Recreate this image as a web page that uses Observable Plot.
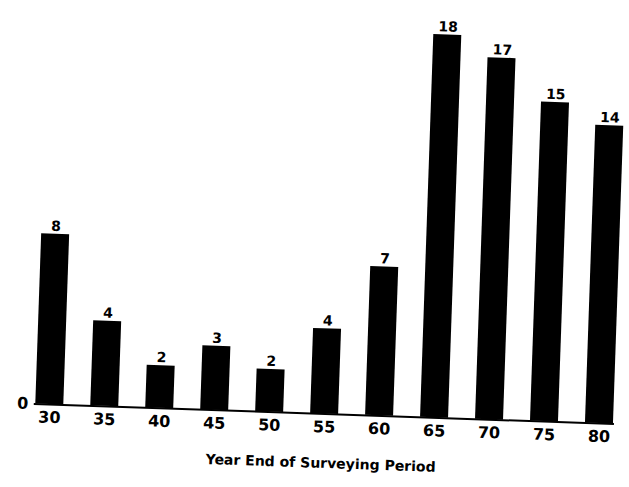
<!DOCTYPE html>
<html>
<head>
<meta charset="utf-8">
<script src="https://cdn.jsdelivr.net/npm/d3@7"></script>
<script src="https://cdn.jsdelivr.net/npm/@observablehq/plot@0.6"></script>
<style>
  html, body { margin: 0; padding: 0; background: #fff; }
  #chart { width: 629px; height: 487px; overflow: hidden; }
  #chart svg { transform: rotate(1.98deg); transform-origin: 314px 243px; display: block; }
</style>
</head>
<body>
<div id="chart"></div>
<script>
const years = ["30", "35", "40", "45", "50", "55", "60", "65", "70", "75", "80"];
const counts = [8, 4, 2, 3, 2, 4, 7, 18, 17, 15, 14];
const xTitle = "Year End of Surveying Period";

const data = years.map((y, i) => ({year: y, count: counts[i]}));
const font = "'DejaVu Sans', Verdana, sans-serif";

const chart = Plot.plot({
  width: 629,
  height: 487,
  marginLeft: 39.5,
  marginRight: 9,
  marginTop: 30,
  marginBottom: 74,
  style: {fontFamily: font, background: "#fff", color: "#000"},
  x: {type: "band", domain: years, paddingInner: 0.5, paddingOuter: 0, axis: null},
  y: {domain: [0, 18], axis: null},
  marks: [
    Plot.barY(data, {x: "year", y: "count", fill: "#000"}),
    Plot.ruleY([0], {stroke: "#000", strokeWidth: 2}),
    Plot.text(data, {x: "year", y: "count", text: d => String(d.count), dy: -8,
      fontSize: 14, fontWeight: "bold", fill: "#000"}),
    Plot.axisX({tickSize: 0, tickPadding: 7, fontSize: 16, fontWeight: "bold", label: null}),
    Plot.axisY({ticks: [0], tickSize: 0, tickPadding: 6, fontSize: 16, fontWeight: "bold", label: null}),
    Plot.text([xTitle], {frameAnchor: "bottom", dy: 54, dx: -2, fontSize: 14, fontWeight: "bold", fill: "#000"})
  ]
});
document.getElementById("chart").appendChild(chart);
</script>
</body>
</html>
